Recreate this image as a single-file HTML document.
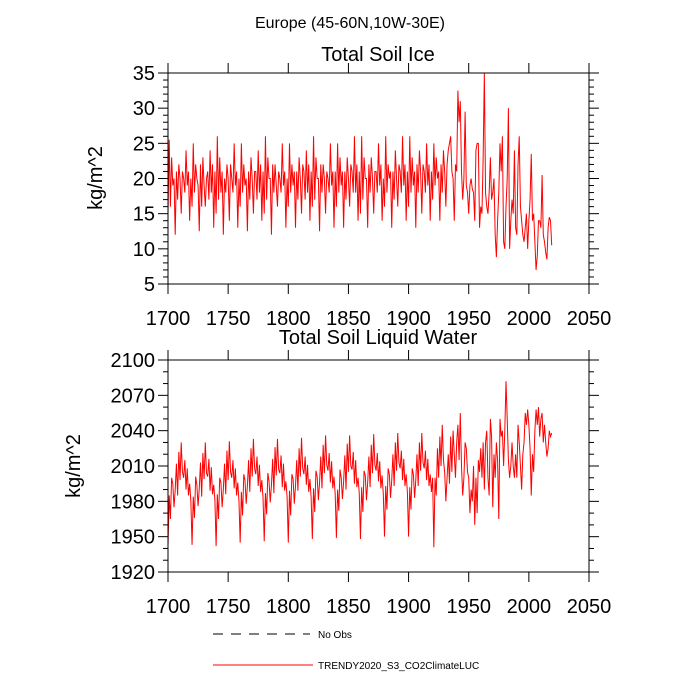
<!DOCTYPE html>
<html><head><meta charset="utf-8"><style>
html,body{margin:0;padding:0;background:#fff;}
svg{display:block;font-family:"Liberation Sans",sans-serif;}
</style></head><body>
<svg id="chart" width="700" height="700" viewBox="0 0 700 700">
<text x="350" y="28" font-size="16" text-anchor="middle">Europe (45-60N,10W-30E)</text>
<text x="378" y="61" font-size="20" text-anchor="middle">Total Soil Ice</text>
<text x="378" y="344" font-size="20" text-anchor="middle">Total Soil Liquid Water</text>
<text transform="translate(102,178) rotate(-90)" font-size="20" text-anchor="middle">kg/m^2</text>
<text transform="translate(80,466) rotate(-90)" font-size="20" text-anchor="middle">kg/m^2</text>
<line x1="213" y1="634" x2="310" y2="634" stroke="#000" stroke-width="1" stroke-dasharray="10,8"/>
<text x="318" y="638" font-size="10">No Obs</text>
<line x1="213" y1="665" x2="313" y2="665" stroke="#f00" stroke-width="1"/>
<text x="318" y="669" font-size="10">TRENDY2020_S3_CO2ClimateLUC</text>
<g id="g"></g>
</svg>
<script>
const startYear = 1700;
const iceValues = [
15,25.5,16,23,19,20,12,21,17,22,20,15,21,20,18,24,19,21,14,20,
16,25,18,22,20,19,12.5,22,16,23,19,16,20,21,17,24,18,22,13,21,
15,26,17,23,18,21,12,20,18,22,20,14,22,20,18,25,19,21,13,20,
16,25,18,22,19,20,12.5,21,17,23,20,15,21,21,17,24,18,22,14,21,
15,26,17,23,20,20,12,22,18,22,19,16,21,20,18,25,19,21,13,20,
16,25,18,22,19,21,13,21,17,23,20,15,22,21,17,24,18,22,14,21,
16,26,17,23,20,20,12.5,22,18,22,20,15,21,20,18,25,19,21,13,21,
16,25,18,23,19,21,13,21,17,23,20,16,22,21,18,26,18,22,14,21,
15,26,17,23,20,20,13,22,18,23,20,15,21,21,18,25,19,22,14,20,
16,26,18,22,20,21,13,21,17,24,20,16,22,21,18,26,19,22,14,21,
16,26,18,23,19,21,13,22,18,24,21,15,22,21,18,25,19,22,14,21,
17,25,19,23,20,21,14,22,18,24,21,16,22,24,25,26,21,20,14,22,
21,32.5,28,31,21,17,20,29.5,19,18,15,19,20,18.5,18,14,24,25,25,13,
16,15,23,35,18,16,15,18,23,17,18,20,12,8.8,14,18,25,21,26,11,
10,16,20,30,10,14,17,15,24,13,12,22,26,16,14,12,11,13,15,10,
14,17,23.5,14,15,11,7,9,14,14,13,20.5,12,11,9.5,8.5,13,14.5,14,10.5
];
const waterValues = [
1942,1985,1965,2000,1995,1975,1990,2012,1985,2022,1998,2030,2005,2000,2015,1990,2008,1985,1995,1980,
1943,1984,1966,2001,1994,1976,1991,2013,1984,2021,1999,2030,2004,2001,2016,1989,2009,1986,1994,1981,
1942,1986,1965,2000,1996,1975,1990,2012,1986,2023,1998,2031,2005,2000,2015,1991,2008,1985,1996,1980,
1945,1988,1968,2003,1998,1978,1993,2015,1988,2025,2001,2033,2008,2003,2018,1993,2011,1988,1998,1983,
1946,1987,1969,2004,1997,1979,1994,2016,1987,2026,2002,2033,2007,2004,2019,1992,2012,1989,1997,1984,
1945,1989,1968,2003,1999,1978,1993,2015,1989,2025,2001,2034,2008,2003,2018,1994,2011,1988,1999,1983,
1948,1991,1971,2006,2001,1981,1996,2018,1991,2028,2004,2036,2011,2006,2021,1996,2014,1991,2001,1986,
1949,1990,1972,2007,2000,1982,1997,2019,1990,2029,2005,2036,2010,2007,2022,1995,2015,1992,2000,1987,
1948,1992,1971,2006,2002,1981,1996,2018,1992,2028,2004,2037,2011,2006,2021,1997,2014,1991,2002,1986,
1950,1993,1973,2008,2003,1983,1998,2020,1993,2030,2006,2038,2013,2008,2023,1998,2016,1993,2003,1988,
1950,1992,1973,2008,2003,1983,1998,2020,1993,2030,2006,2038,2013,2008,2023,1998,2016,1993,2003,1988,
2000,1941,2000,1985,2025,2000,2035,2010,2045,2015,2005,1980,2000,2020,1995,2035,2005,2040,2020,2000,
2030,2045,2015,2055,2010,1985,2000,2030,2025,2005,2000,1970,1990,1980,2010,1960,2000,1970,2015,2005,
2025,2000,2030,1990,2030,2040,2000,1985,2050,2035,1975,2020,2000,2030,2015,1965,2050,2035,2040,2010,
2040,2082,2050,2015,2000,2010,2030,2010,2000,2020,2000,2045,2030,2010,1990,2020,2030,2055,2045,2058,
2045,2025,1985,2020,2005,2040,2058,2045,2060,2035,2050,2055,2030,2045,2030,2018,2025,2040,2035,2038
];
const xTicks = [1700,1750,1800,1850,1900,1950,2000,2050];
const iceTicks = [5,10,15,20,25,30,35];
const waterTicks = [1920,1950,1980,2010,2040,2070,2100];

const NS="http://www.w3.org/2000/svg";
const g=document.getElementById('g');
const L=168,R=589;
function xs(y){return L+(y-1700)/(2050-1700)*(R-L);}
function mk(t,a){const e=document.createElementNS(NS,t);for(const k in a)e.setAttribute(k,a[k]);g.appendChild(e);return e;}
function panel(top,bot,ymin,ymax,ticks,minorStep,vals,name){
  const ys=v=>bot-(v-ymin)/(ymax-ymin)*(bot-top);
  xTicks.forEach(v=>{
    const x=xs(v);
    let t=mk('line',{x1:x,y1:bot,x2:x,y2:bot+10,stroke:'#000','stroke-width':1});
    
    
    t=mk('line',{x1:x,y1:top,x2:x,y2:top-10,stroke:'#000','stroke-width':1});
    
    
    const lb=mk('text',{x:x,y:bot+41,'font-size':20,'text-anchor':'middle'});lb.textContent=v;
    
    
  });
  for(let v=ymin;v<=ymax+1e-9;v+=minorStep){
    const y=ys(v);const major=ticks.some(k=>Math.abs(k-v)<1e-6);const len=major?10:5;
    let t=mk('line',{x1:L,y1:y,x2:L-len,y2:y,stroke:'#000','stroke-width':1});
    
    
    t=mk('line',{x1:R,y1:y,x2:R+len,y2:y,stroke:'#000','stroke-width':1});
    
    
  }
  ticks.forEach(v=>{
    const t=mk('text',{x:L-13,y:ys(v)+7,'font-size':20,'text-anchor':'end'});t.textContent=v;
    
    
  });
  const pts=vals.map((v,i)=>xs(startYear+i).toFixed(2)+','+ys(v).toFixed(2)).join(' ');
  const pl=mk('polyline',{points:pts,fill:'none',stroke:'#f00','stroke-width':1});
  
  
  const fr=mk('rect',{x:L,y:top,width:R-L,height:bot-top,fill:'none',stroke:'#000','stroke-width':1});
  
  
}
panel(73,284,5,35,iceTicks,1,iceValues,'ice');
panel(360,572,1920,2100,waterTicks,10,waterValues,'water');
</script>
</body></html>
